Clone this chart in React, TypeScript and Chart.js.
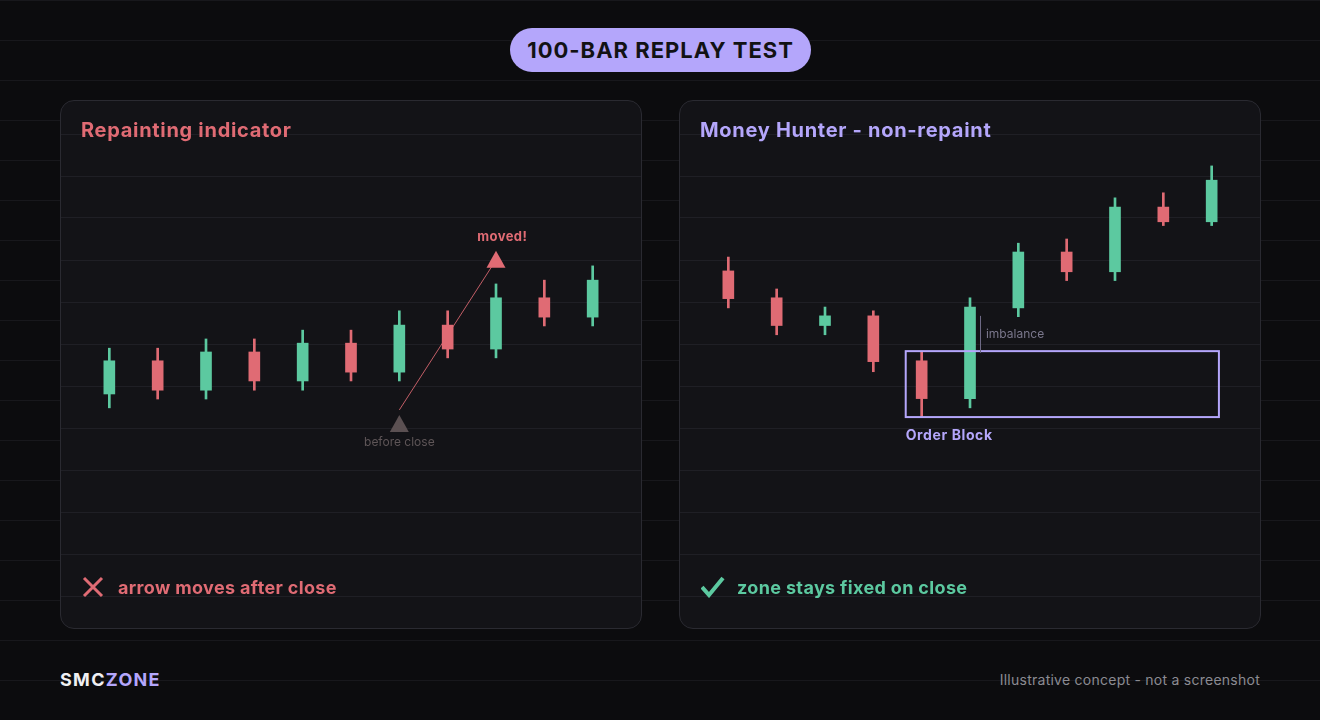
import React, { useEffect, useRef } from "react";
import { Chart, registerables } from "chart.js";

Chart.register(...registerables);

const GREEN = "#5cc9a0";
const RED = "#e06b74";
const LAV = "#b4a6fb";
const PANEL_GRID = "#1f1f25";
const FONT = "Inter, 'Noto Sans', sans-serif";

// Left panel: repainting indicator candles (index 0..10)
const leftOpen = [4.81, 5.6, 4.9, 5.81, 5.12, 6.02, 5.33, 6.45, 5.88, 7.1, 6.64];
const leftHigh = [5.9, 5.9, 6.12, 6.12, 6.33, 6.33, 6.79, 6.79, 7.43, 7.52, 7.86];
const leftLow = [4.48, 4.69, 4.69, 4.9, 4.9, 5.12, 5.12, 5.67, 5.67, 6.43, 6.43];
const leftClose = [5.6, 4.9, 5.81, 5.12, 6.02, 5.33, 6.45, 5.88, 7.1, 6.64, 7.52];

// Right panel: Money Hunter candles
const rightOpen = [7.74, 7.1, 6.44, 6.67, 5.6, 4.7, 6.86, 8.19, 7.72, 9.26, 8.91];
const rightHigh = [8.07, 7.31, 6.88, 6.79, 5.82, 7.1, 8.4, 8.5, 9.48, 9.6, 10.24];
const rightLow = [6.86, 6.22, 6.22, 5.34, 4.26, 4.48, 6.65, 7.51, 7.51, 8.82, 8.82];
const rightClose = [7.08, 6.44, 6.67, 5.58, 4.7, 6.88, 8.19, 7.72, 9.26, 8.91, 9.9];

// Left annotations (x = candle index, y = price)
const beforeCloseApex = [6, 4.31];
const movedApex = [8, 8.22];
const arrowFrom = [6, 4.43];
const arrowTo = [8, 8.0];
const beforeCloseLabel = [6, 3.65];
const movedLabel = [8.13, 8.55];

// Right annotations
const orderBlockX = [3.67, 10.15];
const orderBlockY = [4.26, 5.83];
const imbalanceX = 5.21;
const imbalanceY = [5.79, 6.67];
const imbalanceLabel = [5.33, 6.24];
const orderBlockLabel = [3.67, 3.81];

function triangle(ctx: any, cx: number, apexY: number, w: number, h: number, color: string) {
  ctx.fillStyle = color;
  ctx.beginPath();
  ctx.moveTo(cx, apexY);
  ctx.lineTo(cx + w / 2, apexY + h);
  ctx.lineTo(cx - w / 2, apexY + h);
  ctx.closePath();
  ctx.fill();
}

const leftAnnot = {
  id: "leftAnnot",
  afterDatasetsDraw(chart: any) {
    const { ctx } = chart;
    const x = chart.scales.x;
    const y = chart.scales.y;
    ctx.save();
    ctx.strokeStyle = "rgba(224,107,116,0.85)";
    ctx.lineWidth = 1;
    ctx.beginPath();
    ctx.moveTo(x.getPixelForValue(arrowFrom[0]), y.getPixelForValue(arrowFrom[1]));
    ctx.lineTo(x.getPixelForValue(arrowTo[0]), y.getPixelForValue(arrowTo[1]));
    ctx.stroke();
    triangle(ctx, x.getPixelForValue(beforeCloseApex[0]), y.getPixelForValue(beforeCloseApex[1]), 19, 17, "#5b5052");
    triangle(ctx, x.getPixelForValue(movedApex[0]), y.getPixelForValue(movedApex[1]), 19, 17, RED);
    ctx.textAlign = "center";
    ctx.textBaseline = "middle";
    ctx.font = `400 12px ${FONT}`;
    ctx.fillStyle = "#5e5557";
    ctx.fillText("before close", x.getPixelForValue(beforeCloseLabel[0]), y.getPixelForValue(beforeCloseLabel[1]));
    ctx.font = `700 13px ${FONT}`;
    ctx.letterSpacing = "0.4px";
    ctx.fillStyle = RED;
    ctx.fillText("moved!", x.getPixelForValue(movedLabel[0]), y.getPixelForValue(movedLabel[1]));
    ctx.restore();
  },
};

const rightAnnot = {
  id: "rightAnnot",
  afterDatasetsDraw(chart: any) {
    const { ctx } = chart;
    const x = chart.scales.x;
    const y = chart.scales.y;
    ctx.save();
    const x0 = x.getPixelForValue(orderBlockX[0]);
    const x1 = x.getPixelForValue(orderBlockX[1]);
    const y0 = y.getPixelForValue(orderBlockY[1]);
    const y1 = y.getPixelForValue(orderBlockY[0]);
    ctx.strokeStyle = LAV;
    ctx.lineWidth = 2;
    ctx.strokeRect(x0, y0, x1 - x0, y1 - y0);
    ctx.strokeStyle = "#6d6985";
    ctx.lineWidth = 1;
    ctx.beginPath();
    const ix = Math.round(x.getPixelForValue(imbalanceX)) + 0.5;
    ctx.moveTo(ix, y.getPixelForValue(imbalanceY[0]));
    ctx.lineTo(ix, y.getPixelForValue(imbalanceY[1]));
    ctx.stroke();
    ctx.textAlign = "left";
    ctx.textBaseline = "middle";
    ctx.font = `400 12px ${FONT}`;
    ctx.fillStyle = "#7a778c";
    ctx.fillText("imbalance", x.getPixelForValue(imbalanceLabel[0]), y.getPixelForValue(imbalanceLabel[1]));
    ctx.font = `700 14px ${FONT}`;
    ctx.letterSpacing = "0.6px";
    ctx.fillStyle = LAV;
    ctx.fillText("Order Block", x.getPixelForValue(orderBlockLabel[0]), y.getPixelForValue(orderBlockLabel[1]));
    ctx.restore();
  },
};

function CandleChart(props: { o: number[]; h: number[]; l: number[]; c: number[]; annot: any }) {
  const ref = useRef<HTMLCanvasElement | null>(null);
  useEffect(() => {
    const { o, h, l, c, annot } = props;
    const idx = o.map((_, i) => i);
    const colors = o.map((v, i) => (c[i] >= v ? GREEN : RED));
    const chart = new Chart(ref.current as HTMLCanvasElement, {
      type: "bar",
      data: {
        datasets: [
          {
            label: "wick",
            data: idx.map((i) => ({ x: i, y: [l[i], h[i]] })) as any,
            backgroundColor: colors,
            barThickness: 2,
            grouped: false,
            order: 2,
          } as any,
          {
            label: "body",
            data: idx.map((i) => ({ x: i, y: [o[i], c[i]] })) as any,
            backgroundColor: colors,
            barThickness: 11,
            grouped: false,
            order: 1,
          } as any,
        ],
      },
      options: {
        animation: false,
        responsive: false,
        maintainAspectRatio: false,
        events: [],
        layout: { padding: { top: 33, bottom: 32, left: 0, right: 0 } },
        plugins: { legend: { display: false }, tooltip: { enabled: false } },
        scales: {
          x: { type: "linear", min: -1, max: 11, offset: false, display: false, grid: { offset: false } },
          y: {
            type: "linear",
            min: 0,
            max: 11,
            ticks: { display: false, stepSize: 1 },
            grid: { color: PANEL_GRID, drawTicks: false, lineWidth: 1 },
            border: { display: false },
            afterFit: (s: any) => {
              s.width = 0;
            },
          },
        },
      } as any,
      plugins: [annot],
    });
    return () => chart.destroy();
  }, []);
  return <canvas ref={ref} width={580} height={527} style={{ position: "absolute", left: 0, top: 0, width: 580, height: 527 }} />;
}

function Panel(props: {
  left: number;
  title: string;
  titleColor: string;
  footer: string;
  footerColor: string;
  icon: "x" | "check";
  children: any;
}) {
  return (
    <div
      style={{
        position: "absolute",
        left: props.left,
        top: 100,
        width: 580,
        height: 527,
        border: "1px solid #2a2a31",
        borderRadius: 14,
        background: "#131317",
        overflow: "hidden",
      }}
    >
      {props.children}
      <div
        style={{
          position: "absolute",
          left: 20,
          top: 19,
          font: `700 20px ${FONT}`,
          lineHeight: "20px",
          letterSpacing: "0.7px",
          color: props.titleColor,
          whiteSpace: "nowrap",
        }}
      >
        {props.title}
      </div>
      <div style={{ position: "absolute", left: 21, top: 475, width: 22, height: 22 }}>
        {props.icon === "x" ? (
          <svg width="22" height="22" viewBox="0 0 22 22">
            <path d="M2 2 L20 20 M20 2 L2 20" stroke={props.footerColor} strokeWidth="3" fill="none" />
          </svg>
        ) : (
          <svg width="24" height="22" viewBox="0 0 24 22">
            <path d="M1 11 L8 19 L22 2" stroke={props.footerColor} strokeWidth="4" fill="none" strokeLinejoin="miter" />
          </svg>
        )}
      </div>
      <div
        style={{
          position: "absolute",
          left: 57,
          top: 478,
          font: `700 18px ${FONT}`,
          lineHeight: "18px",
          letterSpacing: "0.35px",
          color: props.footerColor,
          whiteSpace: "nowrap",
        }}
      >
        {props.footer}
      </div>
    </div>
  );
}

export default function App() {
  return (
    <div
      style={{
        position: "fixed",
        left: 0,
        top: 0,
        width: 1320,
        height: 720,
        overflow: "hidden",
        backgroundColor: "#0c0c0e",
        backgroundImage: "linear-gradient(#18181c 1px, transparent 1px)",
        backgroundSize: "100% 40px",
        fontFamily: FONT,
      }}
    >
      <div
        style={{
          position: "absolute",
          left: 510,
          top: 28,
          width: 301,
          height: 44,
          borderRadius: 22,
          background: LAV,
          color: "#121214",
          font: `700 22px ${FONT}`,
          letterSpacing: "1px",
          display: "flex",
          alignItems: "center",
          justifyContent: "center",
        }}
      >
        100-BAR REPLAY TEST
      </div>
      <Panel left={60} title="Repainting indicator" titleColor={RED} footer="arrow moves after close" footerColor={RED} icon="x">
        <CandleChart o={leftOpen} h={leftHigh} l={leftLow} c={leftClose} annot={leftAnnot} />
      </Panel>
      <Panel left={679} title="Money Hunter - non-repaint" titleColor={LAV} footer="zone stays fixed on close" footerColor={GREEN} icon="check">
        <CandleChart o={rightOpen} h={rightHigh} l={rightLow} c={rightClose} annot={rightAnnot} />
      </Panel>
      <div style={{ position: "absolute", left: 60, top: 671, font: `700 18px ${FONT}`, lineHeight: "18px", letterSpacing: "1.3px", whiteSpace: "nowrap" }}>
        <span style={{ color: "#f0f0f2" }}>SMC</span>
        <span style={{ color: LAV }}>ZONE</span>
      </div>
      <div
        style={{
          position: "absolute",
          right: 60,
          top: 672,
          font: `400 14px ${FONT}`,
          lineHeight: "16px",
          letterSpacing: "0.25px",
          color: "#8b8b92",
          whiteSpace: "nowrap",
        }}
      >
        Illustrative concept - not a screenshot
      </div>
    </div>
  );
}
